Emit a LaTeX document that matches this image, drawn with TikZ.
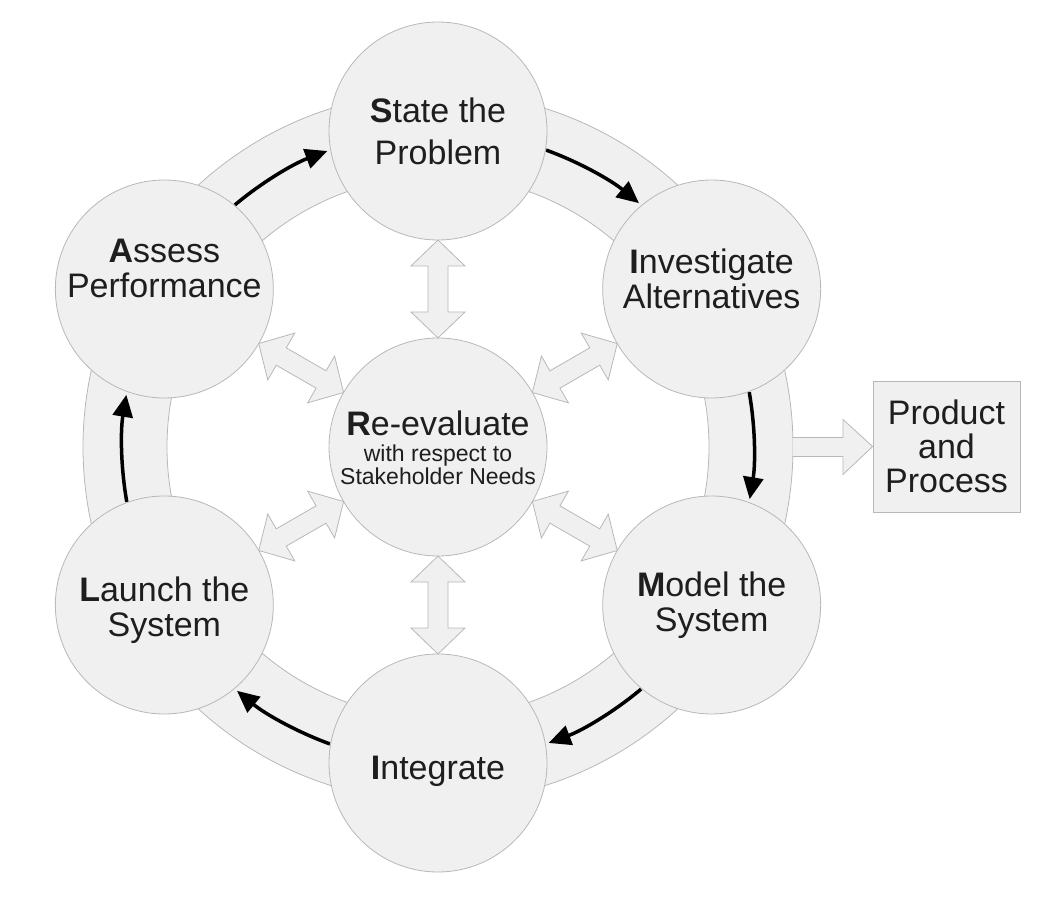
\documentclass[tikz,border=0pt]{standalone}
\usepackage{fontspec}
\setmainfont{Liberation Sans}
\usetikzlibrary{calc,arrows.meta}
\definecolor{fillg}{HTML}{F0F0F0}
\definecolor{lineg}{HTML}{B8B8B8}
\definecolor{txt}{HTML}{1E1E1E}
\begin{document}
\begin{tikzpicture}[x=1pt,y=1pt,
  stage/.style={circle, draw=lineg, line width=0.8pt, fill=fillg, minimum size=218pt, inner sep=0pt},
  lbl/.style={align=center, text=txt, inner sep=0pt, font=\fontsize{34}{35}\selectfont},
  flow/.style={line width=3.5pt, -{Triangle[length=22pt,width=20pt]}},
  hollow/.style={draw=lineg, line width=0.8pt, fill=fillg, line join=miter}]
\useasboundingbox (0,0) rectangle (1057,898);
\coordinate (C) at (438,451);
% ring band
\fill[fillg, even odd rule] (C) circle[radius=355] (C) circle[radius=271];
\draw[lineg, line width=0.8pt] (C) circle[radius=355] (C) circle[radius=271];
% flow arrows
\foreach \a [evaluate=\a as \b using \a-20, evaluate=\a as \e using \a-39.5] in {90,30,-30,-90,-150,-210}
  \draw[flow] ($(C)+(\b:316)$) arc[start angle=\b, end angle=\e, radius=316];
% stages
\node[stage] (s) at ($(C)+(90:316)$) {};
\node[stage] (i) at ($(C)+(30:316)$) {};
\node[stage] (m) at ($(C)+(-30:316)$) {};
\node[stage] (g) at ($(C)+(-90:316)$) {};
\node[stage] (l) at ($(C)+(-150:316)$) {};
\node[stage] (a) at ($(C)+(150:316)$) {};
\node[stage] (r) at (C) {};
\node[lbl, font=\fontsize{34}{42}\selectfont] (st) at (s) {\textbf{S}tate the\\Problem};
\node[lbl] (it) at ($(i)+(0,10)$) {\textbf{I}nvestigate\\Alternatives};
\node[lbl] (mt) at ($(m)+(0,0)$) {\textbf{M}odel the\\System};
\node[lbl] (gt) at ($(g)+(0,-8)$) {\textbf{I}ntegrate};
\node[lbl] (lt) at ($(l)+(0,-5)$) {\textbf{L}aunch the\\System};
\node[lbl] (at) at ($(a)+(0,21)$) {\textbf{A}ssess\\Performance};
\node[lbl, font=\fontsize{34}{37}\selectfont] (rt) at ($(r)+(0,-1)$) {\textbf{R}e-evaluate\\[-11pt]{\fontsize{23}{26}\selectfont with respect to}\\[-14pt]{\fontsize{23}{26}\selectfont Stakeholder Needs}};
% double arrows between centre and stages
\foreach \a in {90,30,-30,-90,-150,150}
  \draw[hollow, shift={(C)}, rotate=\a] (109,0) -- (135,27) -- (135,10) -- (181,10) -- (181,27) -- (207,0) -- (181,-27) -- (181,-10) -- (135,-10) -- (135,-27) -- cycle;
% product box
\node[draw=lineg, line width=0.8pt, fill=fillg, minimum width=147pt, minimum height=131pt, inner sep=0pt, align=center, text=txt, font=\fontsize{34}{34}\selectfont] (p) at (946.5,451.5) {Product\\and\\Process};
\draw[hollow] (793,441.5) -- (843,441.5) -- (843,423.5) -- (p.west) -- (843,478.5) -- (843,460.5) -- (793,460.5);
\end{tikzpicture}
\end{document}
